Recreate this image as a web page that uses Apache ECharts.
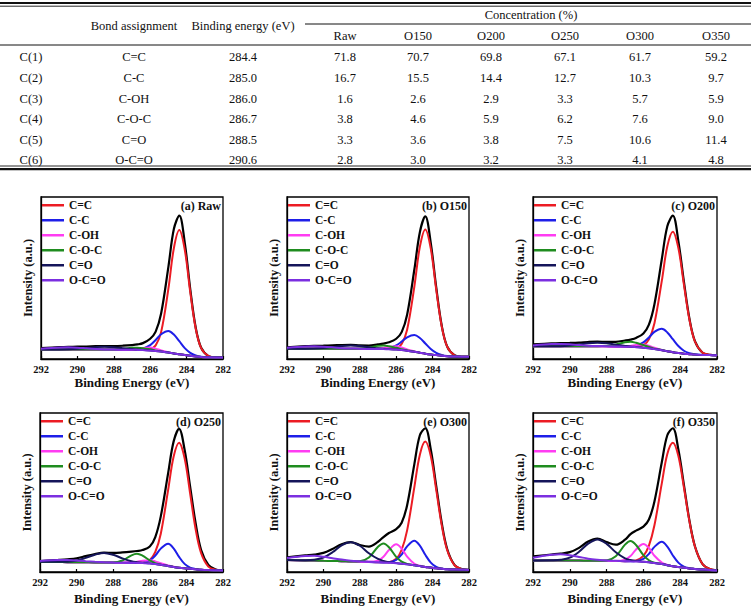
<!DOCTYPE html>
<html>
<head>
<meta charset="utf-8">
<title>C1s XPS spectra</title>
<script src="https://cdn.jsdelivr.net/npm/echarts@6.0.0/dist/echarts.min.js"></script>
<style>
html, body { margin: 0; padding: 0; background: #fff; }
#main { width: 751px; height: 608px; }
</style>
</head>
<body>
<div id="main"></div>
<script>
// ---- table data ----
const rowLabels = ['C(1)', 'C(2)', 'C(3)', 'C(4)', 'C(5)', 'C(6)'];
const bondNames = ['C=C', 'C-C', 'C-OH', 'C-O-C', 'C=O', 'O-C=O'];
const bindingEnergy = ['284.4', '285.0', '286.0', '286.7', '288.5', '290.6'];
const sampleNames = ['Raw', 'O150', 'O200', 'O250', 'O300', 'O350'];
const concRaw = [71.8, 16.7, 1.6, 3.8, 3.3, 2.8];
const concO150 = [70.7, 15.5, 2.6, 4.6, 3.6, 3.0];
const concO200 = [69.8, 14.4, 2.9, 5.9, 3.8, 3.2];
const concO250 = [67.1, 12.7, 3.3, 6.2, 7.5, 3.3];
const concO300 = [61.7, 10.3, 5.7, 7.6, 10.6, 4.1];
const concO350 = [59.2, 9.7, 5.9, 9.0, 11.4, 4.8];

// ---- spectra: binding energy (eV) and intensities (a.u., 0-100 of plot height) ----
const energy = [292, 291, 290.5, 290, 289.5, 289, 288.5, 288, 287.5, 287, 286.7, 286.4, 286, 285.7, 285.4, 285, 284.7, 284.4, 284.1, 283.8, 283.5, 283.2, 282.8, 282.4, 282];

const rawTotal = [6.8, 7.3, 7.5, 7.6, 7.7, 7.9, 8.0, 8.0, 8.2, 8.6, 9.0, 9.8, 12.5, 16.9, 28.1, 56.9, 80.2, 88.5, 71.7, 43.2, 19.4, 6.9, 1.8, 1.0, 1.0];
const rawCC1 = [5.9, 5.9, 5.9, 5.9, 5.9, 5.8, 5.8, 5.8, 5.7, 5.7, 5.6, 5.5, 6.0, 8.4, 16.6, 43.4, 68.4, 79.6, 67.4, 41.4, 18.8, 6.7, 1.8, 1.0, 1.0];
const rawCC2 = [5.9, 5.9, 5.9, 5.9, 5.9, 5.8, 5.8, 5.8, 5.7, 5.8, 5.8, 6.4, 8.6, 11.7, 15.3, 17.3, 15.1, 11.0, 6.7, 3.8, 2.2, 1.4, 1.1, 1.0, 1.0];
const rawCOH = [5.9, 5.9, 5.9, 5.9, 5.9, 5.8, 5.8, 5.8, 5.7, 5.9, 6.1, 6.7, 7.1, 6.4, 5.3, 4.2, 3.4, 2.9, 2.4, 2.0, 1.6, 1.3, 1.1, 1.0, 1.0];
const rawCOC = [5.9, 5.9, 5.9, 5.9, 5.9, 5.8, 5.8, 5.9, 6.2, 6.9, 6.9, 6.7, 6.0, 5.3, 4.7, 4.0, 3.4, 2.9, 2.4, 2.0, 1.6, 1.3, 1.1, 1.0, 1.0];
const rawCO = [5.9, 5.9, 6.0, 6.3, 6.8, 7.3, 7.6, 7.3, 6.6, 6.1, 5.8, 5.6, 5.3, 5.0, 4.6, 4.0, 3.4, 2.9, 2.4, 2.0, 1.6, 1.3, 1.1, 1.0, 1.0];
const rawOCO = [6.4, 7.1, 7.2, 7.0, 6.6, 6.2, 5.9, 5.8, 5.7, 5.7, 5.6, 5.5, 5.3, 5.0, 4.6, 4.0, 3.4, 2.9, 2.4, 2.0, 1.6, 1.3, 1.1, 1.0, 1.0];

const o150Total = [7.2, 7.9, 8.1, 8.2, 8.4, 8.6, 8.7, 8.4, 8.3, 9.0, 9.5, 10.3, 12.5, 16.6, 27.3, 55.4, 78.3, 88.0, 71.5, 44.2, 20.7, 7.7, 2.3, 1.4, 1.4];
const o150CC1 = [6.4, 6.4, 6.4, 6.4, 6.4, 6.3, 6.3, 6.3, 6.2, 6.2, 6.1, 6.1, 6.6, 9.3, 18.1, 44.9, 69.2, 80.0, 68.1, 42.8, 20.2, 7.6, 2.3, 1.4, 1.4];
const o150CC2 = [6.4, 6.4, 6.4, 6.4, 6.4, 6.3, 6.3, 6.3, 6.2, 6.2, 6.3, 6.7, 8.4, 10.7, 13.4, 14.8, 13.0, 9.6, 6.2, 3.8, 2.5, 1.8, 1.5, 1.4, 1.4];
const o150COH = [6.4, 6.4, 6.4, 6.4, 6.4, 6.3, 6.3, 6.3, 6.2, 6.4, 6.7, 7.4, 7.8, 7.1, 5.9, 4.7, 3.9, 3.3, 2.8, 2.4, 2.0, 1.7, 1.5, 1.4, 1.4];
const o150COC = [6.4, 6.4, 6.4, 6.4, 6.4, 6.3, 6.3, 6.5, 7.1, 8.1, 8.3, 7.9, 6.9, 6.0, 5.3, 4.5, 3.9, 3.3, 2.8, 2.4, 2.0, 1.7, 1.5, 1.4, 1.4];
const o150CO = [6.4, 6.4, 6.5, 6.8, 7.4, 8.0, 8.3, 8.0, 7.2, 6.6, 6.3, 6.1, 5.8, 5.5, 5.1, 4.5, 3.9, 3.3, 2.8, 2.4, 2.0, 1.7, 1.5, 1.4, 1.4];
const o150OCO = [6.9, 7.7, 7.8, 7.6, 7.2, 6.7, 6.5, 6.4, 6.2, 6.2, 6.1, 6.0, 5.8, 5.5, 5.1, 4.5, 3.9, 3.3, 2.8, 2.4, 2.0, 1.7, 1.5, 1.4, 1.4];

const o200Total = [9.0, 9.6, 9.8, 9.9, 10.1, 10.5, 10.7, 10.6, 10.6, 11.4, 12.0, 13.0, 15.8, 21.2, 33.8, 61.6, 82.0, 88.5, 72.8, 47.9, 25.0, 11.0, 4.0, 2.6, 2.3];
const o200CC1 = [7.8, 7.8, 7.8, 7.8, 7.8, 7.8, 7.8, 7.8, 7.7, 7.6, 7.5, 7.5, 8.5, 12.1, 22.1, 48.2, 69.6, 78.6, 68.5, 46.1, 24.4, 10.8, 4.0, 2.6, 2.3];
const o200CC2 = [7.8, 7.8, 7.8, 7.8, 7.8, 7.8, 7.8, 7.8, 7.7, 7.7, 7.7, 8.2, 10.3, 13.3, 16.7, 18.6, 16.4, 12.2, 8.0, 5.1, 3.6, 2.9, 2.5, 2.4, 2.3];
const o200COH = [7.8, 7.8, 7.8, 7.8, 7.8, 7.8, 7.8, 7.8, 7.7, 7.8, 8.1, 8.7, 9.0, 8.2, 6.9, 5.6, 4.8, 4.2, 3.7, 3.3, 3.0, 2.7, 2.5, 2.4, 2.3];
const o200COC = [7.8, 7.8, 7.8, 7.8, 7.8, 7.8, 7.8, 8.1, 9.0, 10.3, 10.6, 10.0, 8.6, 7.4, 6.4, 5.5, 4.8, 4.2, 3.7, 3.3, 3.0, 2.7, 2.5, 2.4, 2.3];
const o200CO = [7.8, 7.8, 7.9, 8.3, 8.9, 9.7, 10.0, 9.7, 8.8, 8.1, 7.7, 7.4, 7.0, 6.6, 6.1, 5.4, 4.8, 4.2, 3.7, 3.3, 3.0, 2.7, 2.5, 2.4, 2.3];
const o200OCO = [8.4, 9.2, 9.3, 9.1, 8.6, 8.2, 8.0, 7.9, 7.7, 7.6, 7.5, 7.3, 7.0, 6.6, 6.1, 5.4, 4.8, 4.2, 3.7, 3.3, 3.0, 2.7, 2.5, 2.4, 2.3];

const o250Total = [6.9, 7.6, 8.0, 8.6, 10.0, 11.3, 12.2, 12.0, 12.3, 12.8, 13.2, 13.8, 16.0, 22.0, 35.0, 62.0, 82.0, 90.0, 77.0, 54.0, 31.0, 14.0, 4.5, 1.6, 1.0];
const o250CC1 = [6.4, 6.3, 6.2, 6.2, 6.1, 6.0, 6.0, 5.9, 5.8, 5.8, 5.7, 5.9, 7.6, 12.6, 24.1, 51.5, 72.5, 81.3, 71.6, 49.7, 27.2, 12.0, 3.4, 1.4, 1.0];
const o250CC2 = [6.4, 6.3, 6.2, 6.2, 6.1, 6.0, 6.0, 5.9, 5.8, 5.8, 5.7, 5.9, 7.3, 10.3, 14.7, 17.8, 14.9, 9.5, 5.1, 2.8, 1.9, 1.4, 1.2, 1.1, 1.0];
const o250COH = [6.4, 6.3, 6.2, 6.2, 6.1, 6.0, 6.0, 5.9, 5.8, 6.1, 6.5, 7.1, 7.4, 6.7, 5.5, 4.1, 3.3, 2.7, 2.3, 2.0, 1.7, 1.4, 1.2, 1.1, 1.0];
const o250COC = [6.4, 6.3, 6.2, 6.2, 6.1, 6.0, 6.0, 6.0, 7.2, 10.5, 11.5, 10.3, 7.3, 5.6, 4.6, 3.8, 3.2, 2.7, 2.3, 2.0, 1.7, 1.4, 1.2, 1.1, 1.0];
const o250CO = [6.4, 6.4, 6.5, 7.2, 8.9, 10.9, 12.0, 10.8, 8.6, 6.8, 6.2, 5.8, 5.5, 5.0, 4.5, 3.8, 3.2, 2.7, 2.3, 2.0, 1.7, 1.4, 1.2, 1.1, 1.0];
const o250OCO = [6.9, 7.5, 7.5, 7.3, 6.8, 6.4, 6.1, 5.9, 5.8, 5.8, 5.7, 5.6, 5.4, 5.0, 4.5, 3.8, 3.2, 2.7, 2.3, 2.0, 1.7, 1.4, 1.2, 1.1, 1.0];

const o300Total = [9.2, 10.4, 10.9, 12.0, 14.5, 17.5, 18.8, 17.0, 16.0, 19.0, 22.0, 24.5, 27.0, 31.0, 42.0, 68.0, 86.0, 90.4, 77.0, 54.0, 31.0, 14.5, 4.5, 1.8, 1.3];
const o300CC1 = [7.5, 7.3, 7.2, 7.0, 6.9, 6.8, 6.6, 6.5, 6.3, 6.1, 6.1, 6.2, 8.3, 14.0, 26.2, 53.5, 73.8, 82.0, 72.9, 51.6, 29.5, 13.8, 4.3, 1.8, 1.3];
const o300CC2 = [7.5, 7.3, 7.2, 7.0, 6.9, 6.8, 6.6, 6.5, 6.3, 6.1, 6.0, 6.1, 7.6, 11.0, 16.1, 19.7, 16.6, 10.8, 5.9, 3.2, 2.2, 1.7, 1.5, 1.4, 1.3];
const o300COH = [7.5, 7.3, 7.2, 7.0, 6.9, 6.8, 6.6, 6.5, 6.4, 7.1, 9.6, 13.8, 17.4, 14.7, 9.7, 5.2, 3.9, 3.2, 2.8, 2.3, 2.0, 1.7, 1.5, 1.4, 1.3];
const o300COC = [7.5, 7.3, 7.2, 7.0, 6.9, 6.8, 6.6, 6.8, 9.1, 15.9, 18.0, 15.6, 9.5, 6.5, 5.1, 4.2, 3.7, 3.2, 2.8, 2.3, 2.0, 1.7, 1.5, 1.4, 1.3];
const o300CO = [7.5, 7.4, 7.7, 9.1, 12.4, 16.8, 18.7, 16.5, 11.8, 8.2, 7.0, 6.2, 5.6, 5.2, 4.8, 4.2, 3.7, 3.2, 2.8, 2.3, 2.0, 1.7, 1.5, 1.4, 1.3];
const o300OCO = [8.8, 10.1, 10.2, 9.6, 8.7, 7.8, 7.1, 6.7, 6.4, 6.1, 6.0, 5.8, 5.5, 5.2, 4.8, 4.2, 3.7, 3.2, 2.8, 2.3, 2.0, 1.7, 1.5, 1.4, 1.3];

const o350Total = [9.8, 11.0, 11.6, 12.5, 15.2, 19.2, 21.0, 18.8, 17.2, 20.3, 23.8, 26.0, 28.5, 33.0, 44.4, 69.0, 86.0, 90.4, 77.0, 55.0, 32.5, 16.2, 5.2, 1.9, 1.1];
const o350CC1 = [7.3, 7.3, 7.3, 7.2, 7.2, 7.1, 7.1, 7.0, 6.9, 6.8, 6.9, 7.3, 10.1, 16.6, 29.4, 55.7, 74.2, 81.3, 73.0, 53.3, 32.0, 16.0, 5.2, 1.9, 1.1];
const o350CC2 = [7.3, 7.3, 7.3, 7.2, 7.2, 7.1, 7.1, 7.0, 6.9, 6.8, 6.7, 6.9, 8.3, 11.4, 15.8, 19.0, 16.0, 10.4, 5.9, 3.4, 2.4, 1.9, 1.5, 1.2, 1.0];
const o350COH = [7.3, 7.3, 7.3, 7.2, 7.2, 7.1, 7.1, 7.0, 6.9, 7.8, 10.0, 14.2, 17.6, 15.1, 10.2, 6.0, 4.5, 3.6, 3.1, 2.6, 2.2, 1.9, 1.5, 1.2, 1.0];
const o350COC = [7.3, 7.3, 7.3, 7.2, 7.2, 7.1, 7.1, 7.3, 9.9, 17.2, 19.5, 17.0, 10.6, 7.4, 5.9, 5.0, 4.3, 3.6, 3.1, 2.6, 2.2, 1.9, 1.5, 1.2, 1.0];
const o350CO = [7.3, 7.4, 7.7, 9.0, 12.7, 17.8, 20.5, 17.7, 12.4, 8.6, 7.5, 6.9, 6.5, 6.1, 5.6, 5.0, 4.3, 3.6, 3.1, 2.6, 2.2, 1.9, 1.5, 1.2, 1.0];
const o350OCO = [9.0, 10.9, 11.1, 10.5, 9.5, 8.4, 7.7, 7.2, 7.0, 6.8, 6.7, 6.6, 6.4, 6.1, 5.6, 5.0, 4.3, 3.6, 3.1, 2.6, 2.2, 1.9, 1.5, 1.2, 1.0];

// ---- styling / layout ----
const serif = '"Liberation Serif", "Times New Roman", serif';
const partColors = ['#ec1c24', '#1e1ee8', '#ff3cf2', '#1f8c1f', '#15155a', '#7b2fe0'];

const panels = [
    { title: '(a) Raw', left: 41, top: 197, width: 182, height: 162, total: rawTotal, parts: [rawCC1, rawCC2, rawCOH, rawCOC, rawCO, rawOCO] },
    { title: '(b) O150', left: 287, top: 197, width: 182, height: 162, total: o150Total, parts: [o150CC1, o150CC2, o150COH, o150COC, o150CO, o150OCO] },
    { title: '(c) O200', left: 533, top: 197, width: 184, height: 162, total: o200Total, parts: [o200CC1, o200CC2, o200COH, o200COC, o200CO, o200OCO] },
    { title: '(d) O250', left: 40, top: 413, width: 183, height: 159, total: o250Total, parts: [o250CC1, o250CC2, o250COH, o250COC, o250CO, o250OCO] },
    { title: '(e) O300', left: 287, top: 413, width: 182, height: 159, total: o300Total, parts: [o300CC1, o300CC2, o300COH, o300COC, o300CO, o300OCO] },
    { title: '(f) O350', left: 533, top: 413, width: 184, height: 159, total: o350Total, parts: [o350CC1, o350CC2, o350COH, o350COC, o350CO, o350OCO] }
];

function pairs(values) {
    return energy.map(function (e, k) { return [e, values[k]]; });
}

var grids = [], xAxes = [], yAxes = [], series = [], legends = [], titles = [];

panels.forEach(function (p, i) {
    grids.push({
        left: p.left, top: p.top, width: p.width, height: p.height,
        show: true, borderColor: '#000', borderWidth: 1.3, backgroundColor: 'transparent'
    });
    xAxes.push({
        gridIndex: i, type: 'value', min: 282, max: 292, interval: 2, inverse: true,
        axisLine: { show: true, onZero: false, lineStyle: { color: '#000', width: 1.3 } },
        axisTick: { show: true, inside: true, length: 3, lineStyle: { color: '#000', width: 1.2 } },
        axisLabel: { fontFamily: serif, fontWeight: 'bold', fontSize: 10.5, color: '#111', margin: 5, showMinLabel: true, showMaxLabel: true },
        splitLine: { show: false },
        name: 'Binding Energy (eV)', nameLocation: 'middle', nameGap: i < 3 ? 17 : 20,
        nameTextStyle: { fontFamily: serif, fontWeight: 'bold', fontSize: 13, color: '#111' }
    });
    yAxes.push({
        gridIndex: i, type: 'value', min: 0, max: 100,
        axisLine: { show: true, lineStyle: { color: '#000', width: 1.3 } },
        axisTick: { show: false }, axisLabel: { show: false }, splitLine: { show: false },
        name: 'Intensity (a.u.)', nameLocation: 'middle', nameGap: 7,
        nameTextStyle: { fontFamily: serif, fontWeight: 'bold', fontSize: 12.5, color: '#111' }
    });
    series.push({
        name: 'Total', type: 'line', xAxisIndex: i, yAxisIndex: i, data: pairs(p.total),
        smooth: 0.35, symbol: 'none', silent: true,
        lineStyle: { color: '#000', width: 2.2 }, itemStyle: { color: '#000' }
    });
    p.parts.forEach(function (vals, j) {
        series.push({
            name: bondNames[j], type: 'line', xAxisIndex: i, yAxisIndex: i, data: pairs(vals),
            smooth: 0.35, symbol: 'none', silent: true,
            lineStyle: { color: partColors[j], width: 2 }, itemStyle: { color: partColors[j] }
        });
    });
    legends.push({
        data: bondNames, orient: 'vertical', left: p.left + 1, top: p.top + 2,
        icon: 'rect', itemWidth: 22, itemHeight: 2.5, itemGap: 2.5, padding: 0, selectedMode: false,
        textStyle: { fontFamily: serif, fontWeight: 'bold', fontSize: 11.5, lineHeight: 12.5, color: '#111' }
    });
    titles.push({
        text: p.title, right: 751 - (p.left + p.width) + 2, top: p.top + 3, padding: 0,
        textStyle: { fontFamily: serif, fontWeight: 'bold', fontSize: 12, color: '#111' }
    });
});

// ---- table drawn as graphic elements ----
const tableFont = '12.5px ' + serif;
function cell(text, x, y) {
    return {
        type: 'text', x: x, y: y, silent: true,
        style: { text: text, font: tableFont, fill: '#111', textAlign: 'center', textVerticalAlign: 'middle', align: 'center', verticalAlign: 'middle' }
    };
}
function rule(x1, x2, y, w) {
    return { type: 'line', silent: true, shape: { x1: x1, y1: y, x2: x2, y2: y }, style: { stroke: '#111', lineWidth: w } };
}
const colLabelX = 31, colBondX = 134, colEnergyX = 243;
const sampleX = [345, 418, 491, 565, 640, 716];
const rowY = [57, 78, 98.5, 119, 139.5, 160];
const concColumns = [concRaw, concO150, concO200, concO250, concO300, concO350];

var graphics = [
    rule(0, 751, 3, 2.2), rule(0, 751, 6.2, 0.9),
    rule(305, 751, 24, 1), rule(0, 751, 45, 1),
    rule(0, 751, 166, 0.9), rule(0, 751, 169.2, 2.2),
    cell('Bond assignment', colBondX, 26),
    cell('Binding energy (eV)', colEnergyX, 26),
    cell('Concentration (%)', 531, 15)
];
sampleNames.forEach(function (s, c) { graphics.push(cell(s, sampleX[c], 35.5)); });
rowLabels.forEach(function (lab, r) {
    graphics.push(cell(lab, colLabelX, rowY[r]));
    graphics.push(cell(bondNames[r], colBondX, rowY[r]));
    graphics.push(cell(bindingEnergy[r], colEnergyX, rowY[r]));
    concColumns.forEach(function (col, c) {
        graphics.push(cell(col[r].toFixed(1), sampleX[c], rowY[r]));
    });
});

var myChart = echarts.init(document.getElementById('main'), null, { renderer: 'svg' });
const option = {
    backgroundColor: '#fff',
    animation: false,
    title: titles,
    legend: legends,
    grid: grids,
    xAxis: xAxes,
    yAxis: yAxes,
    series: series,
    graphic: { elements: graphics }
};
option && myChart.setOption(option);
</script>
</body>
</html>
